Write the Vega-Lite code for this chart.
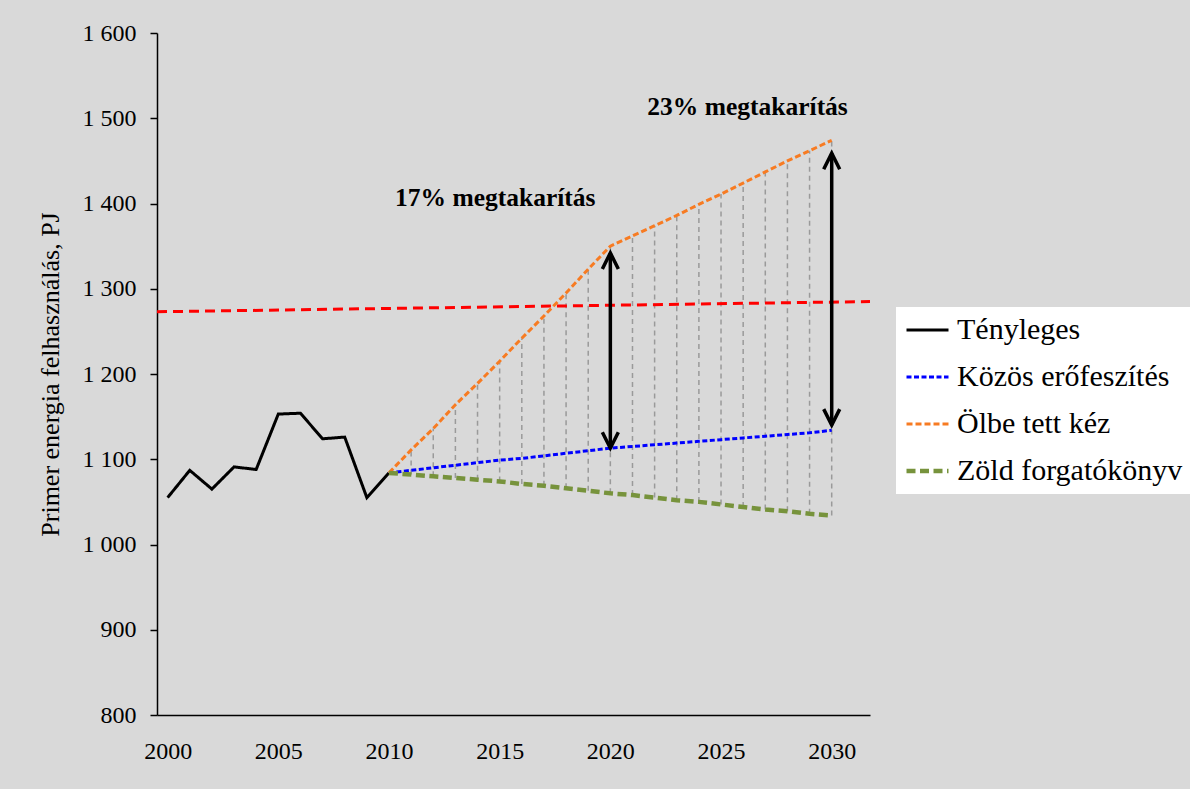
{
  "$schema": "https://vega.github.io/schema/vega-lite/v6.json",
  "width": 713,
  "height": 682,
  "autosize": {"type": "none"},
  "padding": {"left": 157, "top": 33, "right": 320, "bottom": 74},
  "background": "#d9d9d9",
  "config": {"view": {"stroke": null}, "font": "Liberation Serif"},
  "datasets": {
    "series": [
      {"year": 2000, "series": "Tényleges", "value": 1055},
      {"year": 2001, "series": "Tényleges", "value": 1087},
      {"year": 2002, "series": "Tényleges", "value": 1065},
      {"year": 2003, "series": "Tényleges", "value": 1091},
      {"year": 2004, "series": "Tényleges", "value": 1088},
      {"year": 2005, "series": "Tényleges", "value": 1153},
      {"year": 2006, "series": "Tényleges", "value": 1154},
      {"year": 2007, "series": "Tényleges", "value": 1124},
      {"year": 2008, "series": "Tényleges", "value": 1126},
      {"year": 2009, "series": "Tényleges", "value": 1055},
      {"year": 2010, "series": "Tényleges", "value": 1084},
      {"year": 2010, "series": "Közös erőfeszítés", "value": 1084},
      {"year": 2011, "series": "Közös erőfeszítés", "value": 1087},
      {"year": 2012, "series": "Közös erőfeszítés", "value": 1090},
      {"year": 2013, "series": "Közös erőfeszítés", "value": 1093},
      {"year": 2014, "series": "Közös erőfeszítés", "value": 1096},
      {"year": 2015, "series": "Közös erőfeszítés", "value": 1099},
      {"year": 2016, "series": "Közös erőfeszítés", "value": 1101},
      {"year": 2017, "series": "Közös erőfeszítés", "value": 1104},
      {"year": 2018, "series": "Közös erőfeszítés", "value": 1107},
      {"year": 2019, "series": "Közös erőfeszítés", "value": 1110},
      {"year": 2020, "series": "Közös erőfeszítés", "value": 1113},
      {"year": 2021, "series": "Közös erőfeszítés", "value": 1115},
      {"year": 2022, "series": "Közös erőfeszítés", "value": 1117},
      {"year": 2023, "series": "Közös erőfeszítés", "value": 1119},
      {"year": 2024, "series": "Közös erőfeszítés", "value": 1121},
      {"year": 2025, "series": "Közös erőfeszítés", "value": 1123},
      {"year": 2026, "series": "Közös erőfeszítés", "value": 1125},
      {"year": 2027, "series": "Közös erőfeszítés", "value": 1127},
      {"year": 2028, "series": "Közös erőfeszítés", "value": 1129},
      {"year": 2029, "series": "Közös erőfeszítés", "value": 1131},
      {"year": 2030, "series": "Közös erőfeszítés", "value": 1134},
      {"year": 2010, "series": "Ölbe tett kéz", "value": 1084},
      {"year": 2011, "series": "Ölbe tett kéz", "value": 1111},
      {"year": 2012, "series": "Ölbe tett kéz", "value": 1136},
      {"year": 2013, "series": "Ölbe tett kéz", "value": 1164},
      {"year": 2014, "series": "Ölbe tett kéz", "value": 1189},
      {"year": 2015, "series": "Ölbe tett kéz", "value": 1215},
      {"year": 2016, "series": "Ölbe tett kéz", "value": 1242},
      {"year": 2017, "series": "Ölbe tett kéz", "value": 1268},
      {"year": 2018, "series": "Ölbe tett kéz", "value": 1295},
      {"year": 2019, "series": "Ölbe tett kéz", "value": 1323},
      {"year": 2020, "series": "Ölbe tett kéz", "value": 1350},
      {"year": 2021, "series": "Ölbe tett kéz", "value": 1362},
      {"year": 2022, "series": "Ölbe tett kéz", "value": 1374},
      {"year": 2023, "series": "Ölbe tett kéz", "value": 1386},
      {"year": 2024, "series": "Ölbe tett kéz", "value": 1399},
      {"year": 2025, "series": "Ölbe tett kéz", "value": 1411},
      {"year": 2026, "series": "Ölbe tett kéz", "value": 1424},
      {"year": 2027, "series": "Ölbe tett kéz", "value": 1437},
      {"year": 2028, "series": "Ölbe tett kéz", "value": 1450},
      {"year": 2029, "series": "Ölbe tett kéz", "value": 1462},
      {"year": 2030, "series": "Ölbe tett kéz", "value": 1474},
      {"year": 2010, "series": "Zöld forgatókönyv", "value": 1084},
      {"year": 2011, "series": "Zöld forgatókönyv", "value": 1082},
      {"year": 2012, "series": "Zöld forgatókönyv", "value": 1080},
      {"year": 2013, "series": "Zöld forgatókönyv", "value": 1078},
      {"year": 2014, "series": "Zöld forgatókönyv", "value": 1076},
      {"year": 2015, "series": "Zöld forgatókönyv", "value": 1074},
      {"year": 2016, "series": "Zöld forgatókönyv", "value": 1071},
      {"year": 2017, "series": "Zöld forgatókönyv", "value": 1069},
      {"year": 2018, "series": "Zöld forgatókönyv", "value": 1066},
      {"year": 2019, "series": "Zöld forgatókönyv", "value": 1063},
      {"year": 2020, "series": "Zöld forgatókönyv", "value": 1060},
      {"year": 2021, "series": "Zöld forgatókönyv", "value": 1058},
      {"year": 2022, "series": "Zöld forgatókönyv", "value": 1055},
      {"year": 2023, "series": "Zöld forgatókönyv", "value": 1052},
      {"year": 2024, "series": "Zöld forgatókönyv", "value": 1050},
      {"year": 2025, "series": "Zöld forgatókönyv", "value": 1047},
      {"year": 2026, "series": "Zöld forgatókönyv", "value": 1044},
      {"year": 2027, "series": "Zöld forgatókönyv", "value": 1041},
      {"year": 2028, "series": "Zöld forgatókönyv", "value": 1039},
      {"year": 2029, "series": "Zöld forgatókönyv", "value": 1036},
      {"year": 2030, "series": "Zöld forgatókönyv", "value": 1034}
    ],
    "target": [
      {"year": 1999.52, "value": 1273},
      {"year": 2031.73, "value": 1285}
    ],
    "arrows": [
      {"year": 2020, "top": 1342, "bottom": 1113},
      {"year": 2030, "top": 1459, "bottom": 1140}
    ],
    "notes": [
      {"year": 2014.8, "value": 1406, "text": "17% megtakarítás"},
      {"year": 2026.2, "value": 1513, "text": "23% megtakarítás"}
    ]
  },
  "layer": [
    {
      "data": {"name": "series"},
      "transform": [
        {"filter": "datum.series === 'Ölbe tett kéz' || datum.series === 'Zöld forgatókönyv'"},
        {"pivot": "series", "value": "value", "groupby": ["year"]},
        {"filter": "datum.year > 2010"}
      ],
      "mark": {"type": "rule", "color": "#9a9a9a", "strokeWidth": 1.5, "strokeDash": [5, 4]},
      "encoding": {
        "x": {"field": "year", "type": "quantitative"},
        "y": {"field": "Zöld forgatókönyv", "type": "quantitative"},
        "y2": {"field": "Ölbe tett kéz"}
      }
    },
    {
      "data": {"name": "target"},
      "mark": {"type": "line", "color": "#ff0000", "strokeWidth": 3, "strokeDash": [10, 6]},
      "encoding": {
        "x": {"field": "year", "type": "quantitative"},
        "y": {"field": "value", "type": "quantitative"}
      }
    },
    {
      "data": {"name": "series"},
      "mark": {"type": "line"},
      "encoding": {
        "x": {
          "field": "year", "type": "quantitative",
          "scale": {"domain": [1999.52, 2031.73], "nice": false, "zero": false},
          "axis": {
            "title": null, "values": [2000, 2005, 2010, 2015, 2020, 2025, 2030], "format": "d",
            "ticks": false, "grid": false, "domainColor": "#000000", "domainWidth": 1.5,
            "labelFont": "Liberation Serif", "labelFontSize": 24, "labelColor": "#000000",
            "labelPadding": 24
          }
        },
        "y": {
          "field": "value", "type": "quantitative",
          "scale": {"domain": [800, 1600], "nice": false, "zero": false},
          "axis": {
            "title": "Primer energia felhasználás,  PJ",
            "titleFont": "Liberation Serif", "titleFontSize": 26, "titleFontWeight": "normal",
            "titleColor": "#000000", "titleX": -107, "titleY": 341, "titleAngle": -90,
            "titleAlign": "center", "titleBaseline": "middle",
            "values": [800, 900, 1000, 1100, 1200, 1300, 1400, 1500, 1600],
            "labelExpr": "replace(format(datum.value, ','), ',', ' ')",
            "grid": false, "domainColor": "#000000", "domainWidth": 1.5,
            "tickColor": "#000000", "tickSize": 7, "tickWidth": 1.5,
            "labelFont": "Liberation Serif", "labelFontSize": 24, "labelColor": "#000000",
            "labelPadding": 14
          }
        },
        "color": {
          "field": "series", "type": "nominal",
          "scale": {
            "domain": ["Tényleges", "Közös erőfeszítés", "Ölbe tett kéz", "Zöld forgatókönyv"],
            "range": ["#000000", "#0000ff", "#f77b22", "#77933c"]
          },
          "legend": {
            "title": null, "orient": "none", "legendX": 739, "legendY": 274,
            "fillColor": "#ffffff", "padding": 8,
            "symbolType": "stroke", "symbolSize": 1764,
            "labelFont": "Liberation Serif", "labelFontSize": 30, "labelColor": "#000000",
            "labelOffset": 6, "rowPadding": 17, "clipHeight": 30, "labelLimit": 400
          }
        },
        "strokeDash": {
          "field": "series", "type": "nominal",
          "scale": {
            "domain": ["Tényleges", "Közös erőfeszítés", "Ölbe tett kéz", "Zöld forgatókönyv"],
            "range": [[1, 0], [5, 2.5], [6, 3], [9, 4.5]]
          },
          "legend": {
            "title": null, "orient": "none", "legendX": 739, "legendY": 274,
            "fillColor": "#ffffff", "padding": 8,
            "symbolType": "stroke", "symbolSize": 1764,
            "labelFont": "Liberation Serif", "labelFontSize": 30, "labelColor": "#000000",
            "labelOffset": 6, "rowPadding": 17, "clipHeight": 30, "labelLimit": 400
          }
        },
        "strokeWidth": {
          "field": "series", "type": "nominal",
          "scale": {
            "type": "ordinal",
            "domain": ["Tényleges", "Közös erőfeszítés", "Ölbe tett kéz", "Zöld forgatókönyv"],
            "range": [3, 3, 3, 4.5]
          },
          "legend": {
            "title": null, "orient": "none", "legendX": 739, "legendY": 274,
            "fillColor": "#ffffff", "padding": 8,
            "symbolType": "stroke", "symbolSize": 1764,
            "labelFont": "Liberation Serif", "labelFontSize": 30, "labelColor": "#000000",
            "labelOffset": 6, "rowPadding": 17, "clipHeight": 30, "labelLimit": 400
          }
        }
      }
    },
    {
      "data": {"name": "arrows"},
      "mark": {"type": "rule", "color": "#000000", "strokeWidth": 3.5},
      "encoding": {
        "x": {"field": "year", "type": "quantitative"},
        "y": {"field": "top", "type": "quantitative"},
        "y2": {"field": "bottom"}
      }
    },
    {
      "data": {"name": "arrows"},
      "mark": {"type": "point", "shape": "M-1,2L0,0L1,2", "size": 256, "filled": false, "stroke": "#000000", "strokeWidth": 3.5, "opacity": 1},
      "encoding": {
        "x": {"field": "year", "type": "quantitative"},
        "y": {"field": "top", "type": "quantitative"}
      }
    },
    {
      "data": {"name": "arrows"},
      "mark": {"type": "point", "shape": "M-1,-2L0,0L1,-2", "size": 256, "filled": false, "stroke": "#000000", "strokeWidth": 3.5, "opacity": 1},
      "encoding": {
        "x": {"field": "year", "type": "quantitative"},
        "y": {"field": "bottom", "type": "quantitative"}
      }
    },
    {
      "data": {"name": "notes"},
      "mark": {"type": "text", "font": "Liberation Serif", "fontSize": 25.5, "fontWeight": "bold", "color": "#000000"},
      "encoding": {
        "x": {"field": "year", "type": "quantitative"},
        "y": {"field": "value", "type": "quantitative"},
        "text": {"field": "text"}
      }
    }
  ]
}
